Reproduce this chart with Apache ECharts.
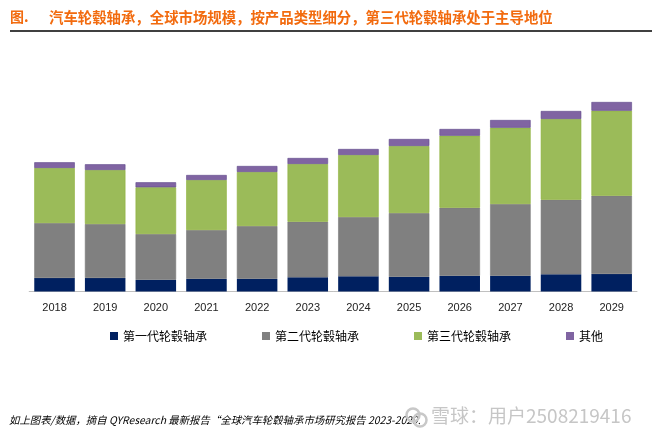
<!DOCTYPE html>
<html>
<head>
<meta charset="utf-8">
<script src="https://cdn.jsdelivr.net/npm/echarts@6/dist/echarts.min.js"></script>
<style>
html,body{margin:0;padding:0;background:#fff;}
#chart{width:652px;height:435px;}
</style>
</head>
<body>
<div id="chart"></div>
<script>
// Categories (years)
const years = ['2018','2019','2020','2021','2022','2023','2024','2025','2026','2027','2028','2029'];
// Series names
const seriesNames = ['第一代轮毂轴承','第二代轮毂轴承','第三代轮毂轴承','其他'];
// Values (relative units, no axis scale shown)
const gen1 = [13.5, 13.5, 11.8, 12.8, 12.8, 14.2, 15.2, 14.8, 15.8, 15.8, 17.2, 17.5];
const gen2 = [55.0, 54.0, 45.7, 48.7, 52.7, 55.6, 59.3, 63.7, 68.0, 71.7, 74.6, 78.3];
const gen3 = [55.0, 54.0, 46.7, 50.0, 54.0, 57.7, 62.0, 67.0, 72.0, 76.3, 80.7, 85.0];
const others = [5.7, 5.7, 5.0, 5.0, 6.0, 6.0, 6.0, 7.0, 6.7, 7.7, 8.0, 8.7];

const colors = ['#002060', '#808080', '#9BBB59', '#8064A2'];
const borders = ['#001a50', '#787878', '#8fb13a', '#604a8b'];
const dataSets = [gen1, gen2, gen3, others];

const cjk = '"Noto Sans CJK SC", "Noto Sans", sans-serif';

const chart = echarts.init(document.getElementById('chart'), null, {renderer: 'canvas'});
chart.setOption({
  animation: false,
  backgroundColor: '#ffffff',
  grid: {left: 29.2, right: 15, top: 91.5, bottom: 143.5, containLabel: false},
  xAxis: {
    type: 'category',
    data: years,
    axisLine: {show: true, lineStyle: {color: '#c0c0c0', width: 1}},
    axisTick: {show: false},
    axisLabel: {color: '#222', fontSize: 11, margin: 11, fontFamily: '"Liberation Sans", Arial, sans-serif'}
  },
  yAxis: {
    type: 'value', min: 0, max: 200, show: false,
    splitLine: {show: false}
  },
  legend: {
    data: seriesNames,
    left: 105, top: 325,
    icon: 'rect', itemWidth: 8, itemHeight: 8, itemGap: 55,
    itemStyle: {borderWidth: 0},
    textStyle: {color: '#000', fontSize: 12, fontFamily: cjk}
  },
  series: dataSets.map((d, i) => ({
    name: seriesNames[i],
    type: 'bar',
    stack: 'total',
    barCategoryGap: '20%',
    data: d,
    itemStyle: {
      color: colors[i],
      borderColor: borders[i],
      borderWidth: i === 0 ? 0 : 0.6
    }
  })),
  graphic: [
    {type: 'text', left: 10, top: 10, style: {text: '图.', fill: '#F26B0F', font: 'bold 14px ' + cjk}},
    {type: 'text', left: 49, top: 10, style: {text: '汽车轮毂轴承，全球市场规模，按产品类型细分，第三代轮毂轴承处于主导地位', fill: '#F26B0F', font: 'bold 14.4px ' + cjk}},
    {type: 'line', shape: {x1: 10, y1: 31, x2: 652, y2: 31}, style: {stroke: '#000', lineWidth: 1.5}},
    {type: 'text', left: 9, top: 415, style: {text: '如上图表/数据，摘自 QYResearch 最新报告“全球汽车轮毂轴承市场研究报告 2023-2029.', fill: '#000', font: 'italic 10.4px ' + cjk}},
    {type: 'circle', shape: {cx: 413, cy: 415, r: 6.5}, style: {fill: 'none', stroke: '#c8c8c8', lineWidth: 2.5}},
    {type: 'circle', shape: {cx: 420, cy: 420, r: 6.5}, style: {fill: 'none', stroke: '#c8c8c8', lineWidth: 2.5}},
    {type: 'text', left: 431, top: 406, style: {text: '雪球：用户2508219416', fill: '#c6c6c6', font: '19px ' + cjk}}
  ]
});
</script>
</body>
</html>
